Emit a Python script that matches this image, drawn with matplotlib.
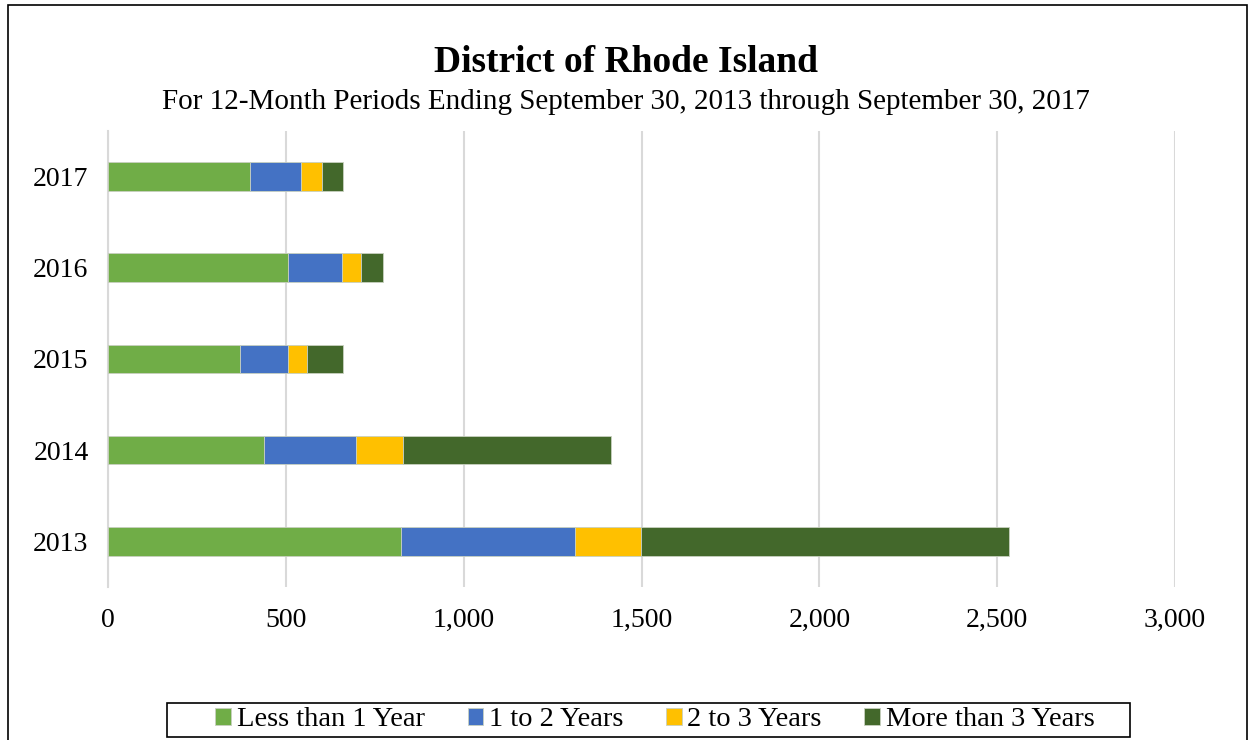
import matplotlib.pyplot as plt
from matplotlib.patches import Rectangle

plt.rcParams["font.family"] = ["Liberation Serif", "DejaVu Serif"]

years = ["2013", "2014", "2015", "2016", "2017"]
less_than_1 = [823, 438, 371, 505, 398]
one_to_2 = [491, 260, 135, 153, 144]
two_to_3 = [185, 130, 53, 54, 59]
more_than_3 = [1033, 587, 102, 61, 60]

series = [
    ("Less than 1 Year", less_than_1, "#70ad47"),
    ("1 to 2 Years", one_to_2, "#4472c4"),
    ("2 to 3 Years", two_to_3, "#ffc000"),
    ("More than 3 Years", more_than_3, "#43682b"),
]

W, H = 1252, 740
fig = plt.figure(figsize=(W / 100, H / 100), dpi=100)
ax = fig.add_axes([0.0863, 0.2068, 0.8522, 0.6162])

# stacked horizontal bars
left = [0] * len(years)
for label, vals, color in series:
    ax.barh(years, vals, left=left, height=0.314, color=color, label=label,
            edgecolor="#c8d0c0", linewidth=0.6, zorder=3)
    left = [a + b for a, b in zip(left, vals)]

ax.set_xlim(0, 3000)
ax.set_ylim(-0.5, 4.5)
ax.set_xticks(range(0, 3001, 500))
ax.set_xticklabels([f"{v:,}" for v in range(0, 3001, 500)])
ax.grid(axis="x", color="#d9d9d9", linewidth=1.5, zorder=0)
for s in ["top", "right", "bottom"]:
    ax.spines[s].set_visible(False)
ax.spines["left"].set_color("#d9d9d9")
ax.spines["left"].set_linewidth(1.5)
ax.tick_params(axis="both", length=0, labelsize=20)
ax.tick_params(axis="x", pad=15)
ax.tick_params(axis="y", pad=14)

fig.text(0.5, 0.915, "District of Rhode Island", ha="center", va="center",
         fontsize=27, fontweight="bold")
fig.text(0.5, 0.862, "For 12-Month Periods Ending September 30, 2013 through September 30, 2017",
         ha="center", va="center", fontsize=21)

leg = fig.legend(loc="center", bbox_to_anchor=(655 / W, 1 - 720 / H), ncol=4,
                 fontsize=20.5, frameon=False, handlelength=0.55, handleheight=0.55,
                 handletextpad=0.2, columnspacing=1.5, borderpad=0, borderaxespad=0)

# legend box
fig.patches.append(Rectangle((167 / W, 1 - 737 / H), (1130 - 167) / W, 34 / H,
                             transform=fig.transFigure, fill=False,
                             edgecolor="black", linewidth=1.2))

# outer chart border
fig.patches.append(Rectangle((0.006, -0.05), 0.99, 1.043, transform=fig.transFigure,
                             fill=False, edgecolor="black", linewidth=1.2))

fig.savefig("out.png", dpi=100)
